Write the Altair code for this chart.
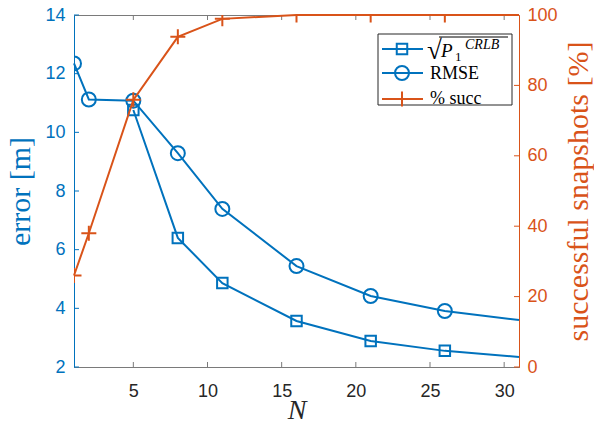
import altair as alt
import pandas as pd

# ---- data ----
N = [1, 2, 5, 8, 11, 16, 21, 26, 31]
crlb = [None, None, 10.76, 6.40, 4.86, 3.57, 2.89, 2.55, 2.34]
rmse = [12.35, 11.12, 11.08, 9.29, 7.39, 5.44, 4.42, 3.91, 3.60]
succ = [26.0, 38.0, 75.9, 93.8, 98.9, 100.0, 100.0, 100.0, 100.0]

x_tick_values = [5, 10, 15, 20, 25, 30]
left_tick_values = [2, 4, 6, 8, 10, 12, 14]
right_tick_values = [0, 20, 40, 60, 80, 100]

x_title = "N"
left_title = "error [m]"
right_title = "successful snapshots [%]"
legend_rmse = "RMSE"
legend_succ = "% succ"

BLUE = "#0072BD"
ORANGE = "#D95319"
GRAY = "#262626"
FRAME = "#7a7a7a"
W, H = 445, 352

df = pd.DataFrame({"N": N, "crlb": crlb, "rmse": rmse, "succ": succ})
xt = pd.DataFrame({"v": x_tick_values})
lt = pd.DataFrame({"v": left_tick_values})
rt = pd.DataFrame({"v": right_tick_values})
one = alt.Data(values=[{"a": 1}])

xs = alt.Scale(domain=[1, 31], nice=False, zero=False)
ysl = alt.Scale(domain=[2, 14], nice=False, zero=False)
ysr = alt.Scale(domain=[0, 100], nice=False, zero=False)

x_axis = alt.Axis(
    values=x_tick_values, ticks=False, grid=False,
    domainColor=FRAME, domainWidth=1,
    labelColor=GRAY, labelFont="Liberation Sans", labelFontSize=18,
    labelPadding=15, labelFlush=False, labelOverlap=False,
    title=x_title, titleFont="Liberation Serif", titleFontStyle="italic",
    titleFontWeight="normal", titleFontSize=28, titleColor=GRAY,
    titleX=W / 2, titleY=51, titleBaseline="alphabetic", titleAlign="center",
)
left_axis = alt.Axis(
    orient="left", values=left_tick_values, ticks=False, grid=False,
    domainColor=BLUE, domainWidth=1,
    labelColor=BLUE, labelFont="Liberation Sans", labelFontSize=18,
    labelPadding=9, labelFlush=False, labelOverlap=False,
    title=left_title, titleFont="Liberation Serif", titleFontWeight="normal",
    titleFontSize=30, titleColor=BLUE, titleAngle=270,
    titleX=-45, titleY=H / 2, titleBaseline="alphabetic", titleAlign="center",
)
right_axis = alt.Axis(
    orient="right", values=right_tick_values, ticks=False, grid=False,
    domainColor=ORANGE, domainWidth=1,
    labelColor=ORANGE, labelFont="Liberation Sans", labelFontSize=18,
    labelPadding=8, labelFlush=False, labelOverlap=False,
    title=right_title, titleFont="Liberation Serif", titleFontWeight="normal",
    titleFontSize=30, titleColor=ORANGE, titleAngle=270,
    titleX=68, titleY=H / 2, titleBaseline="alphabetic", titleAlign="center",
)


def X(f):
    return alt.X(f, scale=xs, axis=x_axis)


def YL(f):
    return alt.Y(f, scale=ysl, axis=left_axis)


def YR(f):
    return alt.Y(f, scale=ysr, axis=right_axis)


base = alt.Chart(df)
PLUS = "M-1,0L1,0M0,-1L0,1"

# ---- left (error) group ----
crlb_line = base.mark_line(color=BLUE, strokeWidth=2).encode(x=X("N:Q"), y=YL("crlb:Q"))
crlb_pts = base.transform_filter("datum.N <= 26").mark_point(
    shape="square", size=110, filled=False, strokeWidth=2, color=BLUE, opacity=1, clip=True
).encode(x=X("N:Q"), y=YL("crlb:Q"))
rmse_line = base.mark_line(color=BLUE, strokeWidth=2).encode(x=X("N:Q"), y=YL("rmse:Q"))
rmse_pts = base.transform_filter("datum.N <= 26").mark_point(
    shape="circle", size=196, filled=False, strokeWidth=2, color=BLUE, opacity=1, clip=True
).encode(x=X("N:Q"), y=YL("rmse:Q"))
left_ticks = alt.Chart(lt).mark_rule(color=BLUE, strokeWidth=1).encode(
    y=YL("v:Q"), x=alt.value(0), x2=alt.value(5)
)
bottom_ticks = alt.Chart(xt).mark_rule(color=FRAME, strokeWidth=1).encode(
    x=X("v:Q"), y=alt.value(H - 5), y2=alt.value(H)
)
top_ticks = alt.Chart(xt).mark_rule(color=FRAME, strokeWidth=1).encode(
    x=X("v:Q"), y=alt.value(0), y2=alt.value(5)
)
left_group = alt.layer(crlb_line, left_ticks, bottom_ticks, top_ticks, crlb_pts, rmse_line, rmse_pts)

# ---- right (success) group ----
succ_line = base.mark_line(color=ORANGE, strokeWidth=2).encode(x=X("N:Q"), y=YR("succ:Q"))
succ_pts = base.transform_filter("datum.N <= 26").mark_point(
    shape=PLUS, size=225, filled=False, strokeWidth=2, color=ORANGE, opacity=1, clip=True
).encode(x=X("N:Q"), y=YR("succ:Q"))
right_ticks = alt.Chart(rt).mark_rule(color=ORANGE, strokeWidth=1).encode(
    y=YR("v:Q"), x=alt.value(W - 5), x2=alt.value(W)
)
right_group = alt.layer(succ_line, right_ticks, succ_pts)

# ---- legend ----
lg = alt.Chart(one)
box = lg.mark_rect(fill="white", stroke=GRAY, strokeWidth=1).encode(
    x=alt.value(304), x2=alt.value(438), y=alt.value(19), y2=alt.value(90)
)
rows = []
for yy, col, shape, size in [(34, BLUE, "square", 110), (58, BLUE, "circle", 196), (84, ORANGE, PLUS, 225)]:
    rows.append(lg.mark_rule(color=col, strokeWidth=2).encode(
        x=alt.value(308), x2=alt.value(349), y=alt.value(yy)))
    rows.append(lg.mark_point(shape=shape, size=size, filled=False, strokeWidth=2, color=col, opacity=1).encode(
        x=alt.value(328), y=alt.value(yy)))
serif = dict(font="Liberation Serif", color="black", align="left")
t_rmse = lg.mark_text(baseline="middle", fontSize=18, **serif).encode(
    x=alt.value(356), y=alt.value(59), text=alt.value(legend_rmse))
t_succ = lg.mark_text(baseline="middle", fontSize=18, **serif).encode(
    x=alt.value(356), y=alt.value(84), text=alt.value(legend_succ))
t_sqrt = lg.mark_text(baseline="alphabetic", fontSize=27, **serif).encode(
    x=alt.value(353), y=alt.value(44), text=alt.value("√"))
t_bar = lg.mark_rule(color="black", strokeWidth=1).encode(
    x=alt.value(365), x2=alt.value(434), y=alt.value(22))
t_P = lg.mark_text(baseline="alphabetic", fontSize=19, fontStyle="italic", **serif).encode(
    x=alt.value(367), y=alt.value(42), text=alt.value("P"))
t_1 = lg.mark_text(baseline="alphabetic", fontSize=13, **serif).encode(
    x=alt.value(381), y=alt.value(46), text=alt.value("1"))
t_crlb = lg.mark_text(baseline="alphabetic", fontSize=14, fontStyle="italic", **serif).encode(
    x=alt.value(391), y=alt.value(34), text=alt.value("CRLB"))
legend = alt.layer(box, *rows, t_rmse, t_succ, t_sqrt, t_bar, t_P, t_1, t_crlb)

chart = alt.layer(left_group, right_group, legend).resolve_scale(y="independent").properties(
    width=W, height=H,
    autosize=alt.AutoSizeParams(type="none"),
    padding={"left": 74, "top": 15, "right": 75, "bottom": 64},
    background="white",
).configure_view(stroke=FRAME, strokeWidth=1)

chart.save("out.html", embed_options={"renderer": "svg", "actions": False})
